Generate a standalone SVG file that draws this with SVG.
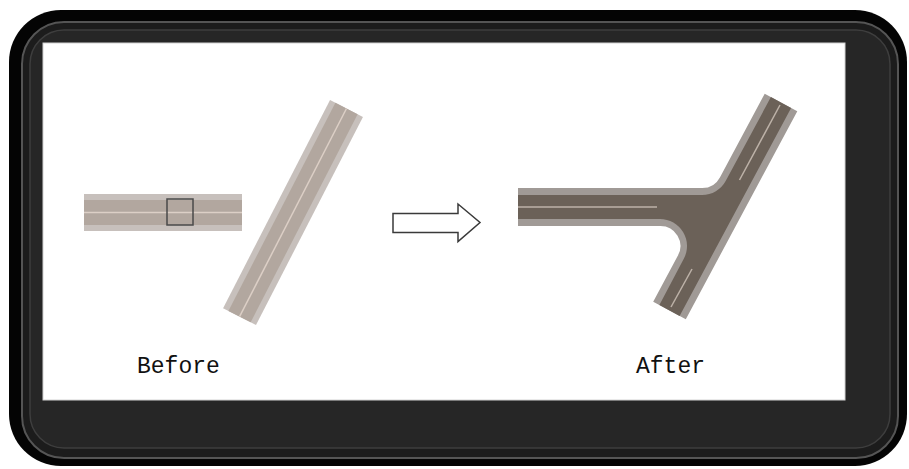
<svg xmlns="http://www.w3.org/2000/svg" width="909" height="469" viewBox="0 0 909 469">
  <style>
    .edge-before { fill: #c7c0bc; }
    .fill-before { fill: #b2a79f; }
    .line-before { stroke: #dccfc6; stroke-width: 1.5; fill: none; }
    .edge-after { fill: #a09a96; }
    .fill-after { fill: #6b6158; }
    .line-after { stroke: #bdb2a8; stroke-width: 1.5; fill: none; }
    .label { font-family: "Liberation Mono", "DejaVu Sans Mono", monospace; font-size: 23px; fill: #111; }
  </style>

  <!-- dark frame with shadow bands -->
  <g id="frame">
    <rect x="0" y="0" width="909" height="469" fill="#ffffff"/>
    <rect x="9" y="10" width="898" height="456" rx="52" fill="#040404"/>
    <rect x="22" y="22" width="876" height="436" rx="42" fill="#1c1c1c" stroke="#555555" stroke-width="2"/>
    <rect x="30" y="30" width="860" height="418" rx="34" fill="#262626" stroke="#3e3e3e" stroke-width="1.5"/>
    <rect x="43" y="43" width="802" height="357" fill="#ffffff" stroke="#d2d2d2" stroke-width="1"/>
  </g>

  <!-- roads before the junction is built -->
  <g id="before-horizontal">
    <rect class="edge-before" x="84" y="194" width="158" height="37"/>
    <rect class="fill-before" x="84" y="200" width="158" height="25"/>
    <line class="line-before" x1="84" y1="212.5" x2="242" y2="212.5"/>
    <rect x="167" y="199" width="26" height="26" fill="none" stroke="#4a4a4a" stroke-width="1.5"/>
  </g>

  <g id="before-diagonal" transform="translate(346.5,108.5) rotate(117.2)">
    <rect class="edge-before" x="0" y="-18.5" width="234" height="37"/>
    <rect class="fill-before" x="0" y="-12.5" width="234" height="25"/>
    <line class="line-before" x1="0" y1="0" x2="234" y2="0"/>
  </g>

  <!-- transformation arrow -->
  <g id="arrow">
    <polygon points="393,213.5 458,213.5 458,204 480,222.5 458,241.5 458,232.5 393,232.5" fill="#ffffff" stroke="#3a3a3a" stroke-width="1.5" stroke-linejoin="miter"/>
  </g>

  <!-- resulting T junction -->
  <g id="after-junction">
    <path class="edge-after" d="M518,188 L702,188 A20,20 0 0 0 719.9,177.4 L764.7,93.8 L797.3,111.2 L685.8,319.2 L653.2,301.8 L677.8,255.8 A20,20 0 0 0 660,226 L518,226 Z"/>
    <path class="fill-after" d="M518,195 L702,195 A27,27 0 0 0 725.8,180.8 L770.9,97.1 L791.1,107.9 L679.6,315.9 L659.4,305.1 L683.8,258.8 A27,27 0 0 0 660,219 L518,219 Z"/>
    <line class="line-after" x1="518" y1="207" x2="657" y2="207"/>
    <line class="line-after" x1="780" y1="105" x2="739.5" y2="180"/>
    <line class="line-after" x1="692" y1="269" x2="671" y2="307"/>
  </g>

  <g id="labels">
    <text class="label" x="137" y="373">Before</text>
    <text class="label" x="636" y="373">After</text>
  </g>
</svg>
